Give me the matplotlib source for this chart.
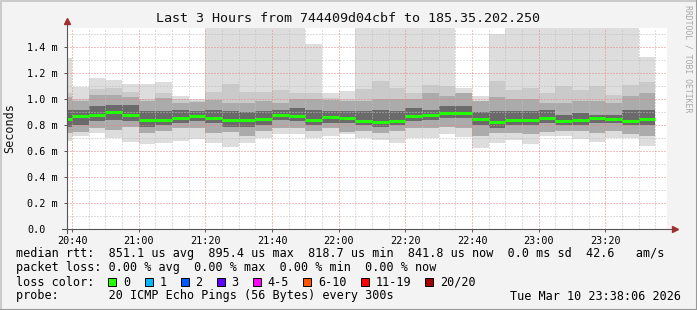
import matplotlib
matplotlib.use('Agg')
import matplotlib.pyplot as plt
from matplotlib.patches import Rectangle
from matplotlib.lines import Line2D
from matplotlib.ticker import MultipleLocator

# inicio de cada intervalo de 5 minutos
inicio = ["20:35", "20:40", "20:45", "20:50", "20:55", "21:00", "21:05", "21:10",
          "21:15", "21:20", "21:25", "21:30", "21:35", "21:40", "21:45", "21:50",
          "21:55", "22:00", "22:05", "22:10", "22:15", "22:20", "22:25", "22:30",
          "22:35", "22:40", "22:45", "22:50", "22:55", "23:00", "23:05", "23:10",
          "23:15", "23:20", "23:25", "23:30"]

# fumaca (ms): limites das faixas, de fora para dentro
topo = [1.32, 1.097, 1.166, 1.148, 1.118, 1.118, 1.136, 1.028, 1.002, 1.60, 1.60, 1.60,
        1.60, 1.60, 1.60, 1.428, 1.048, 1.066, 1.60, 1.60, 1.60, 1.60, 1.60, 1.60,
        1.087, 1.023, 1.50, 1.60, 1.60, 1.60, 1.60, 1.60, 1.60, 1.60, 1.60, 1.325]
hi2 = [1.05, 1.0, 1.08, 1.085, 1.06, 1.0, 1.05, 1.0, 0.99, 1.06, 1.12, 1.06,
       1.06, 1.07, 1.05, 1.05, 1.01, 1.0, 1.08, 1.14, 1.09, 1.05, 1.108, 1.10,
       1.05, 0.985, 1.14, 1.075, 1.09, 1.05, 1.10, 1.075, 1.10, 1.035, 1.11, 1.13]
hi3 = [1.02, 0.985, 1.035, 1.03, 1.02, 0.985, 1.01, 0.97, 0.98, 0.997, 0.97, 0.97,
       0.985, 0.97, 1.0, 1.0, 0.995, 0.985, 0.985, 1.0, 1.0, 1.0, 1.048, 1.023,
       1.048, 0.985, 1.02, 1.0, 1.0, 0.97, 0.97, 0.985, 0.985, 0.97, 1.023, 1.05]
hi4 = [0.92, 0.92, 0.946, 0.96, 0.958, 0.908, 0.908, 0.92, 0.908, 0.92, 0.908, 0.90,
       0.908, 0.92, 0.93, 0.92, 0.908, 0.908, 0.908, 0.92, 0.908, 0.93, 0.92, 0.946,
       0.946, 0.90, 0.908, 0.908, 0.908, 0.92, 0.88, 0.895, 0.88, 0.88, 0.92, 0.92]
mediana = [0.846, 0.872, 0.879, 0.900, 0.879, 0.841, 0.841, 0.856, 0.872, 0.854, 0.843, 0.838,
           0.848, 0.879, 0.869, 0.843, 0.864, 0.859, 0.833, 0.828, 0.830, 0.869, 0.882, 0.895,
           0.895, 0.848, 0.823, 0.838, 0.841, 0.854, 0.831, 0.843, 0.854, 0.848, 0.833, 0.846]
lo4 = [0.79, 0.805, 0.83, 0.843, 0.83, 0.79, 0.805, 0.815, 0.836, 0.818, 0.79, 0.79,
       0.80, 0.843, 0.83, 0.80, 0.82, 0.82, 0.80, 0.785, 0.80, 0.83, 0.843, 0.854,
       0.854, 0.80, 0.78, 0.80, 0.80, 0.815, 0.80, 0.80, 0.815, 0.815, 0.80, 0.80]
lo3 = [0.74, 0.745, 0.78, 0.766, 0.79, 0.74, 0.754, 0.78, 0.78, 0.74, 0.75, 0.715,
       0.754, 0.78, 0.78, 0.754, 0.78, 0.75, 0.754, 0.74, 0.754, 0.78, 0.78, 0.79,
       0.78, 0.715, 0.74, 0.74, 0.73, 0.75, 0.754, 0.754, 0.74, 0.754, 0.73, 0.72]
base = [0.68, 0.718, 0.743, 0.705, 0.674, 0.656, 0.664, 0.682, 0.692, 0.666, 0.636, 0.666,
        0.705, 0.735, 0.733, 0.70, 0.72, 0.735, 0.705, 0.687, 0.666, 0.70, 0.70, 0.733,
        0.712, 0.628, 0.666, 0.687, 0.656, 0.718, 0.718, 0.692, 0.674, 0.705, 0.70, 0.643]

rotulos_x = ["20:40", "21:00", "21:20", "21:40", "22:00", "22:20", "22:40", "23:00", "23:20"]
rotulos_y = ["0.0", "0.2 m", "0.4 m", "0.6 m", "0.8 m", "1.0 m", "1.2 m", "1.4 m"]

perda_nomes = ["0", "1", "2", "3", "4-5", "6-10", "11-19", "20/20"]
perda_cores = ["#22ff00", "#00b8ff", "#0059ff", "#5e00ff", "#ff00ff", "#ff5500", "#ff0000", "#a10000"]


def minutos(hhmm):
    h, m = hhmm.split(":")
    return int(h) * 60 + int(m)


W, H = 697, 310
fonte = 'DejaVu Sans Mono'
plt.rcParams['font.family'] = fonte

fig = plt.figure(figsize=(W / 100, H / 100), dpi=100, facecolor='#f3f3f3')
ax = fig.add_axes([67 / W, 1 - 229.3 / H, 600 / W, 201.3 / H])
ax.set_facecolor('white')

x0 = [minutos(t) for t in inicio]
largura = 5

# faixas de fumaca (de fora para dentro)
faixas = [(base, topo, '#dddddd'), (lo3, hi2, '#cacaca'),
          (lo3, hi3, '#ababab'), (lo4, hi4, '#6a6a6a')]
for baixo, alto, cor in faixas:
    alturas = [a - b for a, b in zip(alto, baixo)]
    ax.bar(x0, alturas, bottom=baixo, width=largura, align='edge',
           color=cor, linewidth=0, zorder=1)

# mediana
ax.hlines(mediana, x0, [x + largura for x in x0], colors=perda_cores[0],
          linewidth=2.2, zorder=4, capstyle='butt')

# limites e grade
ax.set_xlim(minutos("20:38") + 0.5, minutos("23:38") + 0.5)
ax.set_ylim(0, 1.5485)

ax.xaxis.set_minor_locator(MultipleLocator(5))
ax.yaxis.set_minor_locator(MultipleLocator(0.1))
ax.set_xticks([minutos(t) for t in rotulos_x])
ax.set_xticklabels(rotulos_x)
ax.set_yticks([i * 0.2 for i in range(len(rotulos_y))])
ax.set_yticklabels(rotulos_y, ha='left')

ax.grid(which='minor', color=(0.75, 0.75, 0.75, 0.8), linestyle=(0, (1, 2)), linewidth=0.72, zorder=2)
ax.grid(which='major', color=(0.92, 0.5, 0.5, 0.8), linestyle=(0, (1, 2)), linewidth=0.72, zorder=3)
ax.set_axisbelow(False)

for s in ax.spines.values():
    s.set_visible(False)
ax.tick_params(axis='both', which='major', labelsize=7.3, length=2, color='#555555', width=0.7)
ax.tick_params(axis='both', which='minor', length=0)
ax.tick_params(axis='y', pad=26.6)
ax.tick_params(axis='x', pad=2.5)

# eixos com setas
ax.add_line(Line2D([-5 / 600, 1 + 6 / 600], [0, 0], transform=ax.transAxes,
                   color='#555555', linewidth=0.8, clip_on=False, zorder=5))
ax.add_line(Line2D([0, 0], [-4 / 201.3, 1 + 5 / 201.3], transform=ax.transAxes,
                   color='#555555', linewidth=0.8, clip_on=False, zorder=5))
ax.plot([1 + 8 / 600], [0], marker='>', markersize=4.5, color='#a03030',
        transform=ax.transAxes, clip_on=False, zorder=6)
ax.plot([0], [1 + 7 / 201.3], marker='^', markersize=4.5, color='#a03030',
        transform=ax.transAxes, clip_on=False, zorder=6)

# textos
fig.text(348 / W, 1 - 19 / H, "Last 3 Hours from 744409d04cbf to 185.35.202.250",
         ha='center', va='center', fontsize=9.6, color='#111111')
fig.text(10 / W, 1 - 128 / H, "Seconds", rotation=90, ha='center', va='center',
         fontsize=8.5, color='#111111')
fig.text(688 / W, 1 - 5 / H, "RRDTOOL / TOBI OETIKER", rotation=270, ha='center',
         va='top', fontsize=5.9, color='#a8a8a8')

tam = 8.5
fig.text(16 / W, 1 - 254 / H,
         "median rtt:  851.1 us avg  895.4 us max  818.7 us min  841.8 us now  0.0 ms sd  42.6   am/s",
         ha='left', va='center', fontsize=tam)
fig.text(16 / W, 1 - 268 / H,
         "packet loss: 0.00 % avg  0.00 % max  0.00 % min  0.00 % now",
         ha='left', va='center', fontsize=tam)
fig.text(16 / W, 1 - 282 / H, "loss color:", ha='left', va='center', fontsize=tam)
fig.text(16 / W, 1 - 296 / H, "probe:       20 ICMP Echo Pings (56 Bytes) every 300s",
         ha='left', va='center', fontsize=tam)
fig.text(681 / W, 1 - 296 / H, "Tue Mar 10 23:38:06 2026", ha='right', va='center', fontsize=tam)

# legenda das cores de perda
passo = 7.1
pos = 108.4
for nome, cor in zip(perda_nomes, perda_cores):
    fig.add_artist(Rectangle((pos / W, 1 - 286 / H), 8 / W, 8 / H, transform=fig.transFigure,
                             facecolor=cor, edgecolor='black', linewidth=0.7))
    fig.text((pos + 14.8) / W, 1 - 282 / H, nome, ha='left', va='center', fontsize=tam)
    pos = pos + 14.8 + (len(nome) + 2) * passo

# moldura
fig.add_artist(Line2D([0.5 / W, 0.5 / W, 1 - 0.5 / W], [0, 1 - 0.5 / H, 1 - 0.5 / H],
                      transform=fig.transFigure, color='#cbcbcb', linewidth=1.5))
fig.add_artist(Line2D([0.5 / W, 1 - 0.5 / W, 1 - 0.5 / W], [0.5 / H, 0.5 / H, 1],
                      transform=fig.transFigure, color='#999999', linewidth=1.5))

fig.savefig('out.png', dpi=100, facecolor=fig.get_facecolor())
